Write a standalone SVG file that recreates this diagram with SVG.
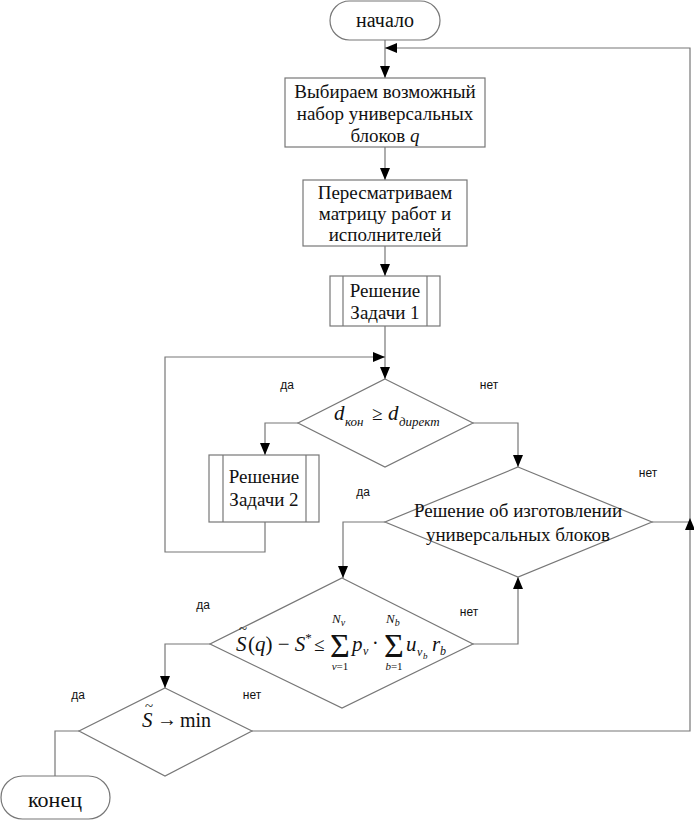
<svg xmlns="http://www.w3.org/2000/svg" width="694" height="821" viewBox="0 0 694 821">
<style>
.shape{fill:#fff;stroke:#777;stroke-width:1.2}
.ln{fill:none;stroke:#777;stroke-width:1.2}
.t{font-family:"Liberation Serif","Times New Roman",serif;font-size:19px;fill:#111}
.i{font-style:italic}
.lb{font-family:"Liberation Sans",Arial,sans-serif;font-size:12px;fill:#111}
</style>
<defs>
<marker id="arr" viewBox="0 0 12 10" refX="12" refY="5" markerWidth="12" markerHeight="10" markerUnits="userSpaceOnUse" orient="auto">
<path d="M0,0 L12,5 L0,10 Z" fill="#000"/>
</marker>
</defs>
<rect width="694" height="821" fill="#fff"/>

<g id="connectors">
<path class="ln" d="M385,40 V78" marker-end="url(#arr)"/>
<path class="ln" d="M385,147 V180" marker-end="url(#arr)"/>
<path class="ln" d="M385,246 V276" marker-end="url(#arr)"/>
<path class="ln" d="M385,326 V379" marker-end="url(#arr)"/>
<path class="ln" d="M265,522 V552 H165 V357 H385" marker-end="url(#arr)"/>
<path class="ln" d="M298,423 H265 V455" marker-end="url(#arr)"/>
<path class="ln" d="M473,423 H518 V467" marker-end="url(#arr)"/>
<path class="ln" d="M385,522 H343 V578" marker-end="url(#arr)"/>
<path class="ln" d="M652,522 H690"/>
<path class="ln" d="M252,731 H690 V518" marker-end="url(#arr)"/>
<path class="ln" d="M690,518 V48 H385" marker-end="url(#arr)"/>
<path class="ln" d="M473,644 H518 V577" marker-end="url(#arr)"/>
<path class="ln" d="M210,644 H165 V688" marker-end="url(#arr)"/>
<path class="ln" d="M79,731 H55 V776"/>
</g>

<g id="start">
<rect class="shape" x="330" y="1" width="110" height="39" rx="19.5"/>
<text class="t" x="385" y="27" text-anchor="middle" style="font-size:20px">начало</text>
</g>

<g id="box1">
<rect class="shape" x="285" y="78" width="200" height="69"/>
<text class="t" x="385" y="98" text-anchor="middle">Выбираем возможный</text>
<text class="t" x="385" y="120" text-anchor="middle">набор универсальных</text>
<text class="t" x="385" y="142" text-anchor="middle">блоков <tspan class="i">q</tspan></text>
</g>

<g id="box2">
<rect class="shape" x="303" y="180" width="164" height="66"/>
<text class="t" x="385" y="199" text-anchor="middle">Пересматриваем</text>
<text class="t" x="385" y="220" text-anchor="middle">матрицу работ и</text>
<text class="t" x="385" y="241" text-anchor="middle">исполнителей</text>
</g>

<g id="task1">
<rect class="shape" x="330" y="276" width="110" height="50"/>
<line class="ln" x1="343" y1="276" x2="343" y2="326"/>
<line class="ln" x1="427" y1="276" x2="427" y2="326"/>
<text class="t" x="385" y="297" text-anchor="middle">Решение</text>
<text class="t" x="385" y="319" text-anchor="middle">Задачи 1</text>
</g>

<g id="decision1">
<polygon class="shape" points="385,379 473,423 385,467 298,423"/>
<text class="t i" x="334" y="420" style="font-size:21px">d</text>
<text class="t i" x="345" y="426" style="font-size:13px">кон</text>
<text class="t" x="372" y="420" style="font-size:19px">≥</text>
<text class="t i" x="388" y="420" style="font-size:21px">d</text>
<text class="t i" x="399" y="426" style="font-size:13px">директ</text>
</g>

<g id="task2">
<rect class="shape" x="209" y="455" width="110" height="67"/>
<line class="ln" x1="223" y1="455" x2="223" y2="522"/>
<line class="ln" x1="306" y1="455" x2="306" y2="522"/>
<text class="t" x="264" y="483" text-anchor="middle">Решение</text>
<text class="t" x="264" y="506" text-anchor="middle">Задачи 2</text>
</g>

<g id="decision2">
<polygon class="shape" points="518,467 652,522 518,577 385,522"/>
<text class="t" x="518" y="517" text-anchor="middle">Решение об изготовлении</text>
<text class="t" x="518" y="541" text-anchor="middle">универсальных блоков</text>
</g>

<g id="decision3">
<polygon class="shape" points="342,578 473,644 342,708 210,644"/>
<text class="t i" x="236" y="651" style="font-size:21px">S</text>
<text class="t" x="239" y="634" style="font-size:15px">~</text>
<text class="t" x="248" y="651" style="font-size:21px">(<tspan class="i">q</tspan>) − <tspan class="i">S</tspan><tspan dy="-9" style="font-size:13px">*</tspan></text>
<text class="t" x="314" y="651" style="font-size:19px">≤</text>
<text class="t" x="340" y="657" text-anchor="middle" style="font-size:34px">Σ</text>
<text class="t i" x="332" y="623" style="font-size:13px">N<tspan dy="3" style="font-size:10px">v</tspan></text>
<text class="t" x="340" y="670" text-anchor="middle" style="font-size:11px"><tspan class="i">v</tspan>=1</text>
<text class="t i" x="352" y="651" style="font-size:21px">p</text>
<text class="t i" x="363" y="655" style="font-size:12px">v</text>
<text class="t" x="372" y="650" style="font-size:20px">·</text>
<text class="t" x="394" y="657" text-anchor="middle" style="font-size:34px">Σ</text>
<text class="t i" x="386" y="623" style="font-size:13px">N<tspan dy="3" style="font-size:10px">b</tspan></text>
<text class="t" x="394" y="670" text-anchor="middle" style="font-size:11px"><tspan class="i">b</tspan>=1</text>
<text class="t i" x="406" y="651" style="font-size:21px">u</text>
<text class="t i" x="417" y="656" style="font-size:12px">v</text>
<text class="t i" x="423" y="659" style="font-size:9px">b</text>
<text class="t i" x="432" y="651" style="font-size:21px">r</text>
<text class="t i" x="440" y="655" style="font-size:12px">b</text>
</g>

<g id="decision4">
<polygon class="shape" points="165,688 252,731 165,776 79,731"/>
<text class="t i" x="142" y="727" style="font-size:21px">S</text>
<text class="t" x="145" y="711" style="font-size:15px">~</text>
<text class="t" x="157" y="726" style="font-size:20px">→</text>
<text class="t" x="180" y="727" style="font-size:20px">min</text>
</g>

<g id="end">
<rect class="shape" x="1" y="776" width="109" height="43" rx="21.5"/>
<text class="t" x="55" y="807" text-anchor="middle" style="font-size:22px">конец</text>
</g>

<g id="labels">
<text class="lb" x="287" y="389" text-anchor="middle">да</text>
<text class="lb" x="489" y="389" text-anchor="middle">нет</text>
<text class="lb" x="363" y="496" text-anchor="middle">да</text>
<text class="lb" x="648" y="477" text-anchor="middle">нет</text>
<text class="lb" x="203" y="609" text-anchor="middle">да</text>
<text class="lb" x="469" y="616" text-anchor="middle">нет</text>
<text class="lb" x="252" y="699" text-anchor="middle">нет</text>
<text class="lb" x="78" y="699" text-anchor="middle">да</text>
</g>
</svg>
